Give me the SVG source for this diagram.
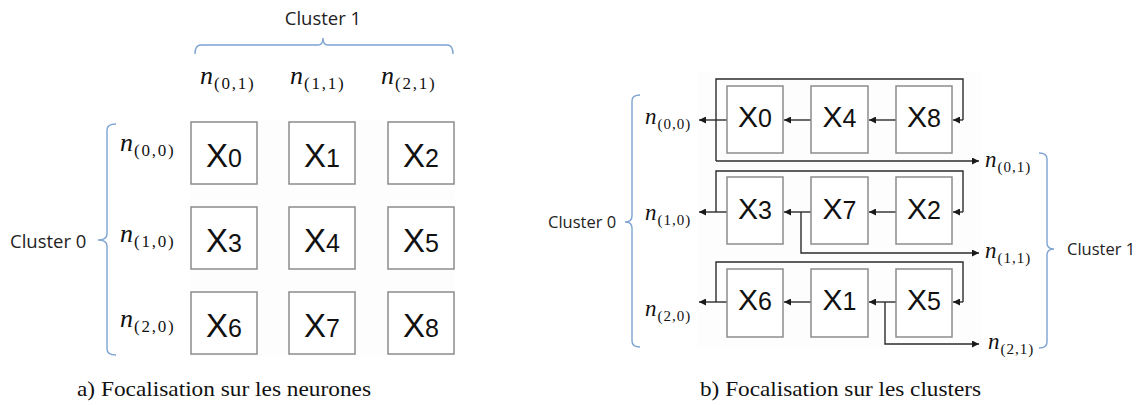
<svg xmlns="http://www.w3.org/2000/svg" width="1142" height="405" viewBox="0 0 1142 405">
<style>
.box{fill:#ffffff;stroke:#8c8c8c;stroke-width:1.5}
.xl{font-family:"Liberation Sans",Arial,sans-serif;font-size:33px;fill:#111;text-anchor:middle}
.xr{font-family:"Liberation Sans",Arial,sans-serif;font-size:30px;fill:#111;text-anchor:middle}
.dg{font-size:25px}
.n{font-family:"Liberation Serif","Times New Roman",serif;fill:#111;font-size:17px;letter-spacing:1.8px}
.nr{font-family:"Liberation Serif","Times New Roman",serif;fill:#111;font-size:15px;letter-spacing:1px}
.n .ni{font-style:italic;font-size:26px;letter-spacing:1px}
.nr .ni{font-style:italic;font-size:23px;letter-spacing:1px}
.cl{font-family:"Open Sans","Liberation Sans",sans-serif;fill:#222}
.cap{font-family:"Liberation Serif","Times New Roman",serif;font-size:22px;fill:#111}
.br{fill:none;stroke:#7ea3d3;stroke-width:1.4}
.ln{fill:none;stroke:#2b2b2b;stroke-width:1.4}
.ar{fill:none;stroke:#2b2b2b;stroke-width:1.4;marker-end:url(#ah)}
</style>
<defs>
<marker id="ah" viewBox="0 0 10 10" refX="10" refY="5" markerWidth="8" markerHeight="7" markerUnits="userSpaceOnUse" orient="auto">
<path d="M0,0 L10,5 L0,10 z" fill="#1a1a1a"/>
</marker>
</defs>
<rect width="1142" height="405" fill="#ffffff"/>
<rect x="190" y="120" width="265" height="236" fill="#fdfdfd"/>
<rect x="697" y="72" width="284" height="276" fill="#fdfdfd"/>

<!-- Left panel (a) -->
<g id="braces-a">
<path class="br" d="M195,54 Q195,45 201,45 H318 Q323,45 323,38 Q323,45 328,45 H447 Q453,45 453,54"/>
<path class="br" d="M116,124 Q107,124 107,130 V234 Q107,240 98,240 Q107,240 107,246 V349 Q107,355 116,355"/>
<text class="cl" x="323" y="25" font-size="18.5" text-anchor="middle">Cluster 1</text>
<text class="cl" x="10" y="248" font-size="18.5">Cluster 0</text>
</g>
<g id="labels-a">
<text class="n" x="200" y="84"><tspan class="ni">n</tspan><tspan dy="5">(0,1)</tspan></text>
<text class="n" x="290" y="84"><tspan class="ni">n</tspan><tspan dy="5">(1,1)</tspan></text>
<text class="n" x="381" y="84"><tspan class="ni">n</tspan><tspan dy="5">(2,1)</tspan></text>
<text class="n" x="120" y="151"><tspan class="ni">n</tspan><tspan dy="5">(0,0)</tspan></text>
<text class="n" x="120" y="242"><tspan class="ni">n</tspan><tspan dy="5">(1,0)</tspan></text>
<text class="n" x="120" y="327"><tspan class="ni">n</tspan><tspan dy="5">(2,0)</tspan></text>
</g>
<g id="a-X0"><rect class="box" x="191" y="122" width="66" height="62"/><text class="xl" x="224" y="167">X<tspan class="dg">0</tspan></text></g>
<g id="a-X1"><rect class="box" x="289" y="122" width="66" height="62"/><text class="xl" x="322" y="167">X<tspan class="dg">1</tspan></text></g>
<g id="a-X2"><rect class="box" x="388" y="122" width="66" height="62"/><text class="xl" x="421" y="167">X<tspan class="dg">2</tspan></text></g>
<g id="a-X3"><rect class="box" x="191" y="207" width="66" height="62"/><text class="xl" x="224" y="252">X<tspan class="dg">3</tspan></text></g>
<g id="a-X4"><rect class="box" x="289" y="207" width="66" height="62"/><text class="xl" x="322" y="252">X<tspan class="dg">4</tspan></text></g>
<g id="a-X5"><rect class="box" x="388" y="207" width="66" height="62"/><text class="xl" x="421" y="252">X<tspan class="dg">5</tspan></text></g>
<g id="a-X6"><rect class="box" x="191" y="292" width="66" height="62"/><text class="xl" x="224" y="337">X<tspan class="dg">6</tspan></text></g>
<g id="a-X7"><rect class="box" x="289" y="292" width="66" height="62"/><text class="xl" x="322" y="337">X<tspan class="dg">7</tspan></text></g>
<g id="a-X8"><rect class="box" x="388" y="292" width="66" height="62"/><text class="xl" x="421" y="337">X<tspan class="dg">8</tspan></text></g>
<text class="cap" x="77" y="396" textLength="294" lengthAdjust="spacingAndGlyphs">a) Focalisation sur les neurones</text>

<!-- Right panel (b) -->
<g id="connectors-b">
<path class="ln" d="M716,161 V79 H963 V120"/>
<path class="ar" d="M963,120 H953"/>
<path class="ar" d="M716,161 H979"/>
<path class="ar" d="M727,120 H699"/>
<path class="ar" d="M811,120 H784"/>
<path class="ar" d="M896,120 H869"/>

<path class="ln" d="M716,212 V171 H963 V212"/>
<path class="ar" d="M963,212 H953"/>
<path class="ar" d="M727,212 H699"/>
<path class="ar" d="M811,212 H784"/>
<path class="ar" d="M896,212 H869"/>
<path class="ar" d="M801,212 V253 H979"/>

<path class="ln" d="M716,302 V262 H963 V302"/>
<path class="ar" d="M963,302 H953"/>
<path class="ar" d="M727,302 H699"/>
<path class="ar" d="M811,302 H784"/>
<path class="ar" d="M896,302 H869"/>
<path class="ar" d="M885,302 V344 H979"/>
</g>
<g id="b-X0"><rect class="box" x="727" y="86" width="56" height="67"/><text class="xr" x="755" y="127">X<tspan class="dg">0</tspan></text></g>
<g id="b-X4"><rect class="box" x="811" y="86" width="57" height="67"/><text class="xr" x="839.5" y="127">X<tspan class="dg">4</tspan></text></g>
<g id="b-X8"><rect class="box" x="896" y="86" width="56" height="67"/><text class="xr" x="924" y="127">X<tspan class="dg">8</tspan></text></g>
<g id="b-X3"><rect class="box" x="727" y="177" width="56" height="67"/><text class="xr" x="755" y="219">X<tspan class="dg">3</tspan></text></g>
<g id="b-X7"><rect class="box" x="811" y="177" width="57" height="67"/><text class="xr" x="839.5" y="219">X<tspan class="dg">7</tspan></text></g>
<g id="b-X2"><rect class="box" x="896" y="177" width="56" height="67"/><text class="xr" x="924" y="219">X<tspan class="dg">2</tspan></text></g>
<g id="b-X6"><rect class="box" x="727" y="269" width="56" height="68"/><text class="xr" x="755" y="310">X<tspan class="dg">6</tspan></text></g>
<g id="b-X1"><rect class="box" x="811" y="269" width="57" height="68"/><text class="xr" x="839.5" y="310">X<tspan class="dg">1</tspan></text></g>
<g id="b-X5"><rect class="box" x="896" y="269" width="56" height="68"/><text class="xr" x="924" y="310">X<tspan class="dg">5</tspan></text></g>
<g id="labels-b">
<text class="nr" x="645" y="124"><tspan class="ni">n</tspan><tspan dy="5">(0,0)</tspan></text>
<text class="nr" x="645" y="220"><tspan class="ni">n</tspan><tspan dy="5">(1,0)</tspan></text>
<text class="nr" x="645" y="316"><tspan class="ni">n</tspan><tspan dy="5">(2,0)</tspan></text>
<text class="nr" x="985" y="167"><tspan class="ni">n</tspan><tspan dy="5">(0,1)</tspan></text>
<text class="nr" x="985" y="258"><tspan class="ni">n</tspan><tspan dy="5">(1,1)</tspan></text>
<text class="nr" x="988" y="349"><tspan class="ni">n</tspan><tspan dy="5">(2,1)</tspan></text>
</g>
<g id="braces-b">
<path class="br" d="M640,95 Q632,95 632,101 V216 Q632,222 625,222 Q632,222 632,228 V341 Q632,347 640,347"/>
<path class="br" d="M1039,153 Q1047,153 1047,159 V243 Q1047,249 1054,249 Q1047,249 1047,255 V342 Q1047,348 1039,348"/>
<text class="cl" x="548" y="228" font-size="16.5">Cluster 0</text>
<text class="cl" x="1067" y="255" font-size="16.5">Cluster 1</text>
</g>
<text class="cap" x="700" y="396" textLength="281" lengthAdjust="spacingAndGlyphs">b) Focalisation sur les clusters</text>
</svg>
